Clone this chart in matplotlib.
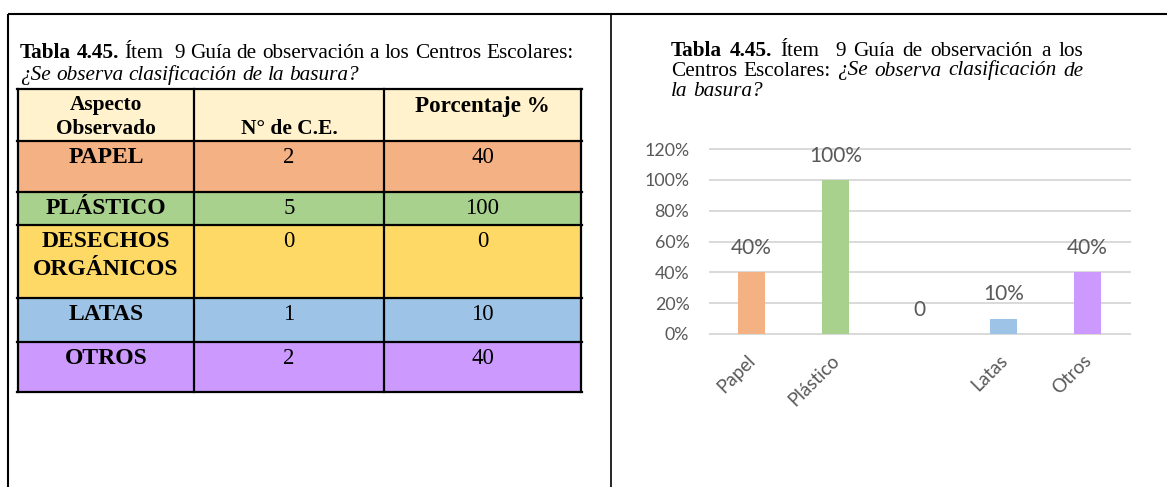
import matplotlib
matplotlib.use("Agg")
import matplotlib.pyplot as plt
from matplotlib.patches import Rectangle
from matplotlib.ticker import PercentFormatter
from matplotlib.transforms import offset_copy

# ---------------- data ----------------
aspectos = ["PAPEL", "PLÁSTICO", "DESECHOS\nORGÁNICOS", "LATAS", "OTROS"]
num_ce = [2, 5, 0, 1, 2]
porcentaje = [40, 100, 0, 10, 40]
header_labels = ["Aspecto\nObservado", "N° de C.E.", "Porcentaje %"]
chart_labels = ["Papel", "Plástico", "", "Latas", "Otros"]
chart_values = [0.40, 1.00, 0.0, 0.10, 0.40]
row_colors = ["#F4B183", "#A9D18E", "#FFD966", "#9DC3E6", "#CC99FF"]
yticks = [0, 0.2, 0.4, 0.6, 0.8, 1.0, 1.2]

W, H = 1167, 487
fig = plt.figure(figsize=(W / 100, H / 100), dpi=100)
ov = fig.add_axes([0, 0, 1, 1])
ov.set_xlim(0, W)
ov.set_ylim(H, 0)
ov.axis("off")
renderer = fig.canvas.get_renderer()

SERIF = "Liberation Serif"
SANS = "Lato"

# ---------------- frame ----------------
ov.plot([8, W], [14, 14], color="black", lw=1.5, solid_capstyle="butt")
ov.plot([8, 8], [14, H], color="black", lw=1.5, solid_capstyle="butt")
ov.plot([611, 611], [14, H], color="black", lw=1.2, solid_capstyle="butt")


def text_width(s, **kw):
    t = ov.text(0, 0, s, **kw)
    w = t.get_window_extent(renderer).width
    t.remove()
    return w


def style_kw(st, size):
    kw = dict(family=SERIF, fontsize=size, color="black")
    if st == "b":
        kw["fontweight"] = "bold"
    if st == "i":
        kw["fontstyle"] = "italic"
    return kw


def line_metrics(tokens, size):
    widths = [text_width(w, **style_kw(st, size)) if w else 0 for w, st in tokens]
    sp = text_width("a a", **style_kw("r", size)) - text_width("aa", **style_kw("r", size))
    return widths, sp


def draw_line(tokens, x0, y, size, justify_to=None):
    widths, sp = line_metrics(tokens, size)
    n = len(tokens) - 1
    if justify_to is not None and n > 0:
        gap = (justify_to - x0 - sum(widths)) / n
    else:
        gap = sp
    x = x0
    for (w, st), wd in zip(tokens, widths):
        if w:
            ov.text(x, y, w, ha="left", va="baseline", **style_kw(st, size))
        x += wd + gap


# ---------------- left caption ----------------
line1 = [("Tabla", "b"), ("4.45.", "b"), ("Ítem", "r"), ("", "r"), ("9", "r"),
         ("Guía", "r"), ("de", "r"), ("observación", "r"), ("a", "r"), ("los", "r"),
         ("Centros", "r"), ("Escolares:", "r")]
# font size so that line 1 at natural spacing spans the measured width
w0, sp0 = line_metrics(line1, 10)
nat0 = sum(w0) + sp0 * (len(line1) - 1)
cap_size = 10 * (573 - 20) / nat0

draw_line(line1, 20, 58, cap_size)
line2 = [("¿Se", "i"), ("observa", "i"), ("clasificación", "i"), ("de", "i"),
         ("la", "i"), ("basura?", "i")]
draw_line(line2, 20, 80, cap_size)

# ---------------- table ----------------
col_edges = [18, 194, 384, 581]
row_edges = [89, 141, 192, 225, 298, 342, 392]
ov.add_patch(Rectangle((col_edges[0], row_edges[0]), col_edges[-1] - col_edges[0],
                       row_edges[1] - row_edges[0], facecolor="#FFF2CC", edgecolor="none"))
for i, c in enumerate(row_colors):
    ov.add_patch(Rectangle((col_edges[0], row_edges[i + 1]), col_edges[-1] - col_edges[0],
                           row_edges[i + 2] - row_edges[i + 1], facecolor=c, edgecolor="none"))
for y in row_edges:
    ov.plot([col_edges[0] - 1, col_edges[-1] + 1], [y, y], color="black", lw=1.6,
            solid_capstyle="projecting")
for x in col_edges:
    ov.plot([x, x], [row_edges[0], row_edges[-1]], color="black", lw=1.6,
            solid_capstyle="projecting")

cx = [(col_edges[i] + col_edges[i + 1]) / 2 for i in range(3)]
# header
hsize = 15.4
ov.text(cx[0], 110, header_labels[0].split("\n")[0], ha="center", va="baseline",
        fontsize=hsize, fontweight="bold", family=SERIF)
ov.text(cx[0], 134, header_labels[0].split("\n")[1], ha="center", va="baseline",
        fontsize=hsize, fontweight="bold", family=SERIF)
ov.text(cx[1], 134, header_labels[1], ha="center", va="baseline",
        fontsize=hsize, fontweight="bold", family=SERIF)
ov.text(cx[2], 112, header_labels[2], ha="center", va="baseline",
        fontsize=16.6, fontweight="bold", family=SERIF)

lab_size = 17.0
num_size = 16.4
for i, (a, n, p) in enumerate(zip(aspectos, num_ce, porcentaje)):
    top = row_edges[i + 1]
    base = top + 22
    for k, part in enumerate(a.split("\n")):
        ov.text(cx[0], base + 28 * k, part, ha="center", va="baseline",
                fontsize=lab_size, fontweight="bold", family=SERIF)
    ov.text(cx[1], base, str(n), ha="center", va="baseline", fontsize=num_size, family=SERIF)
    ov.text(cx[2], base, str(p), ha="center", va="baseline", fontsize=num_size, family=SERIF)

# ---------------- right caption (justified) ----------------
r1 = [("Tabla", "b"), ("4.45.", "b"), ("Ítem", "r"), ("", "r"), ("9", "r"), ("Guía", "r"),
      ("de", "r"), ("observación", "r"), ("a", "r"), ("los", "r")]
r2 = [("Centros", "r"), ("Escolares:", "r"), ("¿Se", "i"), ("observa", "i"),
      ("clasificación", "i"), ("de", "i")]
r3 = [("la", "i"), ("basura?", "i")]
draw_line(r1, 671, 55.5, cap_size, justify_to=1083)
draw_line(r2, 671, 75.5, cap_size, justify_to=1083)
draw_line(r3, 671, 95.5, cap_size)

# ---------------- bar chart ----------------
ax = fig.add_axes([709.5 / W, (H - 334) / H, 420 / W, 185 / H])
xpos = list(range(len(chart_values)))
ax.bar(xpos, chart_values, width=0.32, color=row_colors, zorder=3)
ax.set_xlim(-0.5, len(chart_values) - 0.5)
ax.set_ylim(0, 1.2)
ax.set_yticks(yticks)
ax.yaxis.set_major_formatter(PercentFormatter(1.0, decimals=0))
ax.grid(axis="y", color="#D9D9D9", lw=1.4, zorder=0)
ax.grid(axis="x", visible=False)
for gl in ax.get_ygridlines():
    gl.set_clip_on(False)
for s in ax.spines.values():
    s.set_visible(False)
ax.set_facecolor("none")
ax.tick_params(axis="y", length=0, pad=14.5, labelsize=12.8, labelcolor="#595959")
ax.tick_params(axis="x", length=0, pad=13, labelsize=13.5, labelcolor="#595959")
for lab in ax.get_yticklabels():
    lab.set_family(SANS)
ax.set_xticks(xpos)
ax.set_xticklabels(chart_labels, rotation=45, ha="right", rotation_mode="anchor",
                   family=SANS)
for lab in ax.get_xticklabels():
    lab.set_transform(offset_copy(lab.get_transform(), fig=fig, x=-5, y=0, units="dots"))

for i, v in enumerate(chart_values):
    txt = "0" if v == 0 else f"{v:.0%}"
    ax.annotate(txt, (i, v), xytext=(0, 17.5), textcoords="offset points",
                ha="center", va="center", fontsize=15, color="#595959", family=SANS)

fig.savefig("out.png", dpi=100)
